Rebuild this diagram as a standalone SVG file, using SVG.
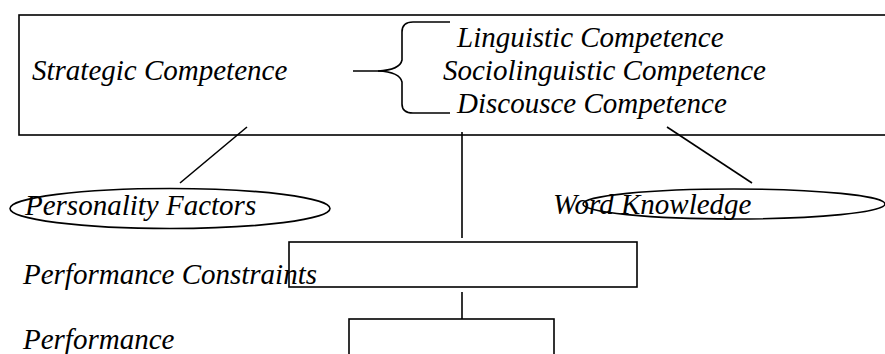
<svg xmlns="http://www.w3.org/2000/svg" width="885" height="354" viewBox="0 0 885 354" font-family="Liberation Serif, Times New Roman, serif" font-style="italic" font-size="29">
<style>
.s{fill:none;stroke:#000;stroke-width:1.6}
</style>
<rect width="885" height="354" fill="#fff"/>
<g id="competence">
<rect class="s" x="19" y="15" width="880" height="120"/>
<text x="32" y="80">Strategic Competence</text>
<path class="s" d="M353,71 L378,71 Q400,70 402,60 L402,32 Q402,22 413,22 L450,22"/>
<path class="s" d="M378,71 Q400,72 402,82 L402,104 Q402,113 413,113 L450,113"/>
<text x="457" y="47">Linguistic Competence</text>
<text x="443" y="80">Sociolinguistic Competence</text>
<text x="457" y="113">Discousce Competence</text>
</g>
<g id="personality">
<ellipse class="s" cx="170" cy="208.5" rx="160" ry="20"/>
<text x="25" y="215">Personality Factors</text>
</g>
<g id="word">
<ellipse class="s" cx="734" cy="204" rx="151" ry="15"/>
<text x="553" y="214">Word Knowledge</text>
</g>
<g id="constraints">
<rect class="s" x="289" y="242" width="348" height="45"/>
<text x="23" y="284">Performance Constraints</text>
</g>
<g id="performance">
<rect class="s" x="349" y="319" width="205" height="50"/>
<text x="23" y="349">Performance</text>
</g>
<g id="connectors">
<line class="s" x1="247" y1="127" x2="180" y2="183"/>
<line class="s" x1="462" y1="132" x2="462" y2="238"/>
<line class="s" x1="667" y1="127" x2="752" y2="183"/>
<line class="s" x1="462" y1="292" x2="462" y2="319"/>
</g>
</svg>
